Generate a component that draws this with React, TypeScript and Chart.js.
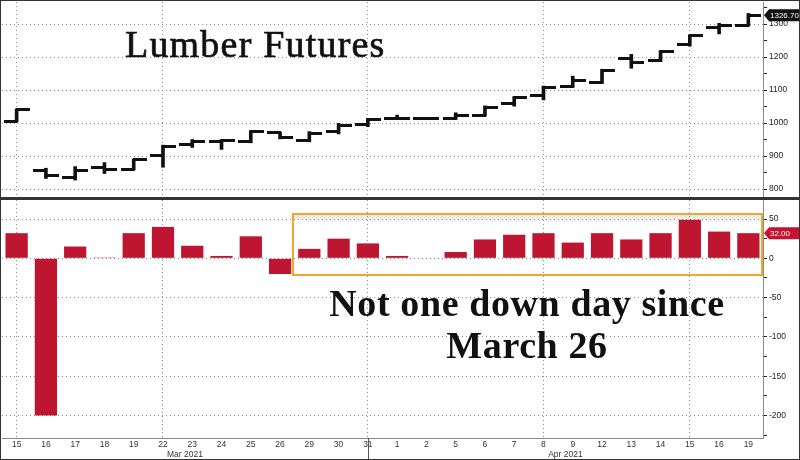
import React, { useEffect, useRef } from 'react';
import { Chart, registerables } from 'chart.js';
Chart.register(...registerables);

// ---- data ----
const dates = ['15', '16', '17', '18', '19', '22', '23', '24', '25', '26', '29', '30', '31', '1', '2', '5', '6', '7', '8', '9', '12', '13', '14', '15', '16', '19'];
const monthLabels = ['Mar 2021', 'Apr 2021'];
const monthStart = [0, 13];
const opens = [1004, 855, 836, 865, 860, 903, 936, 943, 943, 971, 948, 974, 994, 1013, 1015, 1013, 1024, 1058, 1082, 1110, 1123, 1194, 1189, 1239, 1290, 1297];
const highs = [1042, 863, 868, 880, 890, 933, 950, 950, 977, 972, 974, 999, 1014, 1024, 1015, 1031, 1052, 1080, 1112, 1142, 1163, 1208, 1219, 1267, 1302, 1332];
const lows = [1004, 832, 827, 847, 858, 866, 926, 920, 940, 952, 943, 967, 989, 1013, 1015, 1011, 1021, 1051, 1070, 1108, 1120, 1166, 1186, 1233, 1270, 1294];
const closes = [1042, 842, 857, 858, 889, 928, 944, 947, 975, 956, 968, 993, 1012, 1015, 1015, 1023, 1047, 1077, 1109, 1128, 1160, 1184, 1216, 1265, 1295, 1326.7];
const changes = [32, -200, 15, 1, 32, 40, 16, 3, 28, -20, 12, 25, 19, 3, 0, 8, 24, 30, 32, 20, 32, 24, 32, 49, 34, 32];
const gridDays = [0, 5, 12, 18, 23];
const titleText = 'Lumber Futures';
const noteLine1 = 'Not one down day since';
const noteLine2 = 'March 26';

const Y_AXIS_W = 37;
const GRID = '#8c8c8c';
const DASH = [1, 3];
const TICK_FONT = { family: "'Liberation Sans', Arial, sans-serif", size: 8.5 };
const BAR_RED = '#BE1630';

function makeTick(left: boolean) {
  const c = document.createElement('canvas');
  c.width = 26;
  c.height = 3;
  const g = c.getContext('2d')!;
  g.fillStyle = '#111';
  if (left) g.fillRect(0, 0, 14, 3);
  else g.fillRect(12, 0, 14, 3);
  return c;
}

function drawTag(chart: any, y: number, text: string, color: string) {
  const ctx = chart.ctx;
  const x0 = chart.chartArea.right;
  const w = chart.width;
  ctx.save();
  ctx.fillStyle = color;
  ctx.beginPath();
  ctx.moveTo(x0 + 1, y);
  ctx.lineTo(x0 + 6, y - 6);
  ctx.lineTo(w, y - 6);
  ctx.lineTo(w, y + 6);
  ctx.lineTo(x0 + 6, y + 6);
  ctx.closePath();
  ctx.fill();
  ctx.fillStyle = '#fff';
  ctx.font = "8px 'Liberation Sans', Arial, sans-serif";
  ctx.textBaseline = 'middle';
  ctx.textAlign = 'left';
  ctx.fillText(text, x0 + 7, y + 0.5);
  ctx.restore();
}

export default function App() {
  const topRef = useRef<HTMLCanvasElement>(null);
  const botRef = useRef<HTMLCanvasElement>(null);

  useEffect(() => {
    const xGrid = {
      offset: false,
      drawTicks: false,
      lineWidth: 1,
      color: (c: any) => (gridDays.includes(c.index) ? GRID : 'rgba(0,0,0,0)'),
    };
    const yCommon = (major: number) => ({
      position: 'right' as const,
      grid: {
        drawTicks: true,
        tickLength: 4,
        tickColor: '#222',
        lineWidth: 1,
        color: (c: any) => (c.tick && c.tick.value % major === 0 ? GRID : 'rgba(0,0,0,0)'),
      },
      border: { display: true, color: '#8a8a8a', width: 1, dash: DASH },
      ticks: {
        font: TICK_FONT,
        color: '#222',
        padding: 2,
        callback: (v: any) => (Number(v) % major === 0 ? String(v) : ''),
      },
      afterFit: (s: any) => {
        s.width = Y_AXIS_W;
        s.paddingTop = 0;
        s.paddingBottom = 0;
      },
    });

    const topTag = {
      id: 'topTag',
      afterDraw(chart: any) {
        const y = chart.scales.y.getPixelForValue(closes[closes.length - 1]);
        drawTag(chart, y, closes[closes.length - 1].toFixed(2), '#111');
      },
    };

    const top = new Chart(topRef.current!, {
      type: 'bar',
      data: {
        labels: dates,
        datasets: [
          {
            type: 'bar',
            data: lows.map((l, i) => [l, highs[i]]) as any,
            backgroundColor: '#111',
            barThickness: 3,
            order: 2,
          } as any,
          {
            type: 'line',
            data: opens,
            showLine: false,
            pointStyle: makeTick(true),
            order: 1,
          } as any,
          {
            type: 'line',
            data: closes,
            showLine: false,
            pointStyle: makeTick(false),
            order: 1,
          } as any,
        ],
      },
      options: {
        responsive: false,
        animation: false,
        layout: { autoPadding: false, padding: { left: 2, top: 2, right: 0, bottom: 0 } },
        plugins: { legend: { display: false }, tooltip: { enabled: false } },
        scales: {
          x: {
            grid: xGrid as any,
            border: { display: false, dash: DASH },
            ticks: { display: false },
            afterFit: (s: any) => {
              s.height = 0;
              s.paddingLeft = 0;
              s.paddingRight = 0;
            },
          },
          y: {
            ...yCommon(100),
            min: 772.8,
            max: 1366.7,
            afterBuildTicks: (s: any) => {
              const t = [];
              for (let v = 800; v <= 1350; v += 50) t.push({ value: v });
              s.ticks = t;
            },
          } as any,
        },
      },
      plugins: [topTag],
    });

    const botDecor = {
      id: 'botDecor',
      afterDraw(chart: any) {
        const ctx = chart.ctx;
        const xs = chart.scales.x;
        const ca = chart.chartArea;
        ctx.save();
        const sx = Math.round(xs.getPixelForValue(monthStart[1] - 1)) + 0.5;
        ctx.strokeStyle = '#555';
        ctx.lineWidth = 1;
        ctx.beginPath();
        ctx.moveTo(sx, ca.bottom);
        ctx.lineTo(sx, chart.height);
        ctx.stroke();
        ctx.fillStyle = '#333';
        ctx.font = "8.5px 'Liberation Sans', Arial, sans-serif";
        ctx.textAlign = 'center';
        ctx.textBaseline = 'middle';
        monthLabels.forEach((m, k) => {
          const a = monthStart[k];
          const b = k + 1 < monthStart.length ? monthStart[k + 1] - 1 : dates.length - 1;
          const cx = (xs.getPixelForValue(a - 0.5) + xs.getPixelForValue(b)) / 2;
          ctx.fillText(m, cx, chart.height - 5);
        });
        ctx.restore();
        const y = chart.scales.y.getPixelForValue(changes[changes.length - 1]);
        drawTag(chart, y, changes[changes.length - 1].toFixed(2), '#C4122F');
      },
    };

    const bot = new Chart(botRef.current!, {
      type: 'bar',
      data: {
        labels: dates,
        datasets: [
          {
            data: changes,
            backgroundColor: BAR_RED,
            barPercentage: 0.76,
            categoryPercentage: 1,
          },
        ],
      },
      options: {
        responsive: false,
        animation: false,
        layout: { autoPadding: false, padding: { left: 2, top: 1, right: 0, bottom: 0 } },
        plugins: { legend: { display: false }, tooltip: { enabled: false } },
        scales: {
          x: {
            grid: xGrid as any,
            border: { display: true, color: '#8a8a8a', width: 1, dash: DASH },
            ticks: { font: TICK_FONT, color: '#333', padding: 2, autoSkip: false, maxRotation: 0 },
            afterFit: (s: any) => {
              s.height = 22;
              s.paddingLeft = 0;
              s.paddingRight = 0;
            },
          },
          y: {
            ...yCommon(50),
            min: -228.6,
            max: 74.2,
            afterBuildTicks: (s: any) => {
              const t = [];
              for (let v = -225; v <= 50; v += 25) t.push({ value: v });
              s.ticks = t;
            },
          } as any,
        },
      },
      plugins: [botDecor],
    });

    return () => {
      top.destroy();
      bot.destroy();
    };
  }, []);

  const serif = "'Liberation Serif', 'Times New Roman', serif";
  return (
    <div style={{ position: 'fixed', left: 0, top: 0, width: 800, height: 460, background: '#fff', overflow: 'hidden' }}>
      <canvas ref={topRef} width={800} height={198} style={{ position: 'absolute', left: 0, top: 0, display: 'block' }} />
      <canvas ref={botRef} width={800} height={261} style={{ position: 'absolute', left: 0, top: 199, display: 'block' }} />
      <div style={{ position: 'absolute', left: 0, top: 197, width: 800, height: 3, background: '#333' }} />
      <div
        style={{
          position: 'absolute',
          left: 125,
          top: 23,
          fontFamily: serif,
          fontSize: 38,
          lineHeight: '42px',
          letterSpacing: 1.2,
          color: '#111',
          whiteSpace: 'nowrap',
          WebkitTextStroke: '0.7px #111',
        }}
      >
        {titleText}
      </div>
      <div
        style={{
          position: 'absolute',
          left: 292,
          top: 213,
          width: 471,
          height: 63,
          boxSizing: 'border-box',
          border: '2px solid #F0A82C',
          background: 'linear-gradient(rgba(0,0,0,0.10), rgba(0,0,0,0.04) 5px, rgba(0,0,0,0) 7px)',
        }}
      />
      <div
        style={{
          position: 'absolute',
          left: 309,
          top: 282,
          width: 436,
          textAlign: 'center',
          fontFamily: serif,
          fontWeight: 'bold',
          fontSize: 38,
          lineHeight: '42px',
          letterSpacing: 0.6,
          color: '#111',
          whiteSpace: 'nowrap',
        }}
      >
        <div>{noteLine1}</div>
        <div>{noteLine2}</div>
      </div>
      <div
        style={{
          position: 'absolute',
          left: 0,
          top: 0,
          width: 800,
          height: 460,
          boxSizing: 'border-box',
          border: '1px solid #333',
          pointerEvents: 'none',
        }}
      />
    </div>
  );
}
